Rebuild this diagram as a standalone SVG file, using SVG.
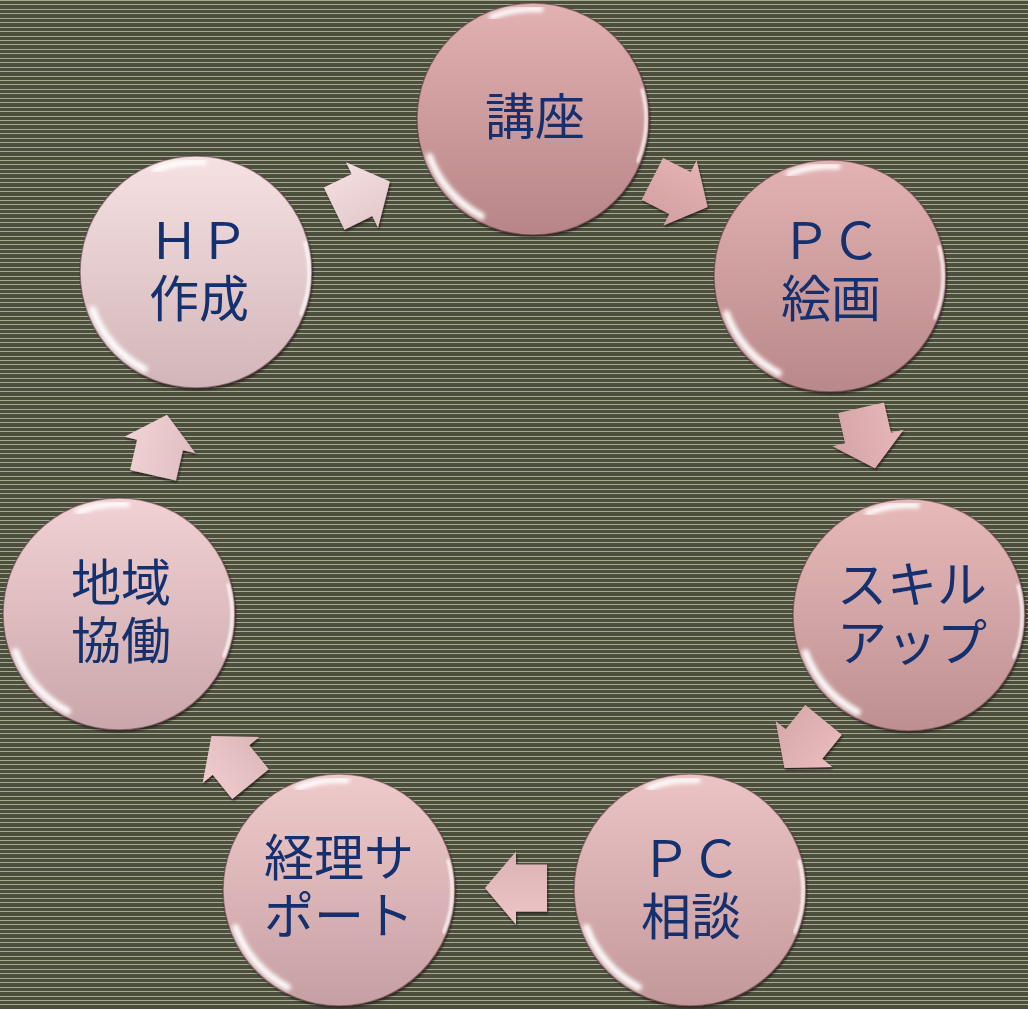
<svg xmlns="http://www.w3.org/2000/svg" xmlns:xlink="http://www.w3.org/1999/xlink" width="1028" height="1009" viewBox="0 0 1028 1009">
  <defs>
    <style>
      .lbl { font-family: "Liberation Serif", "Noto Sans CJK JP", serif; font-size: 50px; fill: #15306e; text-anchor: middle; }
      .hl { fill: none; stroke: #ffffff; stroke-linecap: round; }
      .rim { fill: none; stroke: #5a3b3f; stroke-width: 1.5; stroke-opacity: 0.55; }
    </style>
    <pattern id="stripes" x="0" y="0" width="40" height="40" patternUnits="userSpaceOnUse">
      <rect width="40" height="40" fill="#4c4f3e"/>
      <rect y="0" width="40" height="1" fill="#a7aa91"/>
      <rect y="4" width="40" height="1" fill="#a7aa91"/>
      <rect y="9" width="40" height="1" fill="#a7aa91"/>
      <rect y="13" width="40" height="1" fill="#a7aa91"/>
      <rect y="18" width="40" height="1" fill="#a7aa91"/>
      <rect y="22" width="40" height="1" fill="#a7aa91"/>
      <rect y="27" width="40" height="1" fill="#a7aa91"/>
      <rect y="31" width="40" height="1" fill="#a7aa91"/>
      <rect y="36" width="40" height="1" fill="#a7aa91"/>
    </pattern>
    <filter id="blur2" x="-20%" y="-20%" width="140%" height="140%"><feGaussianBlur stdDeviation="2"/></filter>
    <filter id="blur1" x="-20%" y="-20%" width="140%" height="140%"><feGaussianBlur stdDeviation="1"/></filter>
    <filter id="sh" x="-20%" y="-20%" width="140%" height="140%">
      <feDropShadow dx="1" dy="2" stdDeviation="0.8" flood-color="#1e1416" flood-opacity="0.75"/>
    </filter>
    <linearGradient id="g1" x1="0" y1="0" x2="0" y2="1"><stop offset="0" stop-color="#e2b1b2"/><stop offset="1" stop-color="#b78587"/></linearGradient>
    <linearGradient id="g2" x1="0" y1="0" x2="0" y2="1"><stop offset="0" stop-color="#e3b3b4"/><stop offset="1" stop-color="#b9888a"/></linearGradient>
    <linearGradient id="g3" x1="0" y1="0" x2="0" y2="1"><stop offset="0" stop-color="#e7baba"/><stop offset="1" stop-color="#bd8f91"/></linearGradient>
    <linearGradient id="g4" x1="0" y1="0" x2="0" y2="1"><stop offset="0" stop-color="#ecc4c5"/><stop offset="1" stop-color="#c3989b"/></linearGradient>
    <linearGradient id="g5" x1="0" y1="0" x2="0" y2="1"><stop offset="0" stop-color="#efcacb"/><stop offset="1" stop-color="#c69fa2"/></linearGradient>
    <linearGradient id="g6" x1="0" y1="0" x2="0" y2="1"><stop offset="0" stop-color="#f1d1d3"/><stop offset="1" stop-color="#caa6aa"/></linearGradient>
    <linearGradient id="g7" x1="0" y1="0" x2="0" y2="1"><stop offset="0" stop-color="#f6e1e2"/><stop offset="1" stop-color="#d2b5b9"/></linearGradient>
    <linearGradient id="a1" x1="0" y1="0" x2="0" y2="1"><stop offset="0" stop-color="#e6b3b5"/><stop offset="1" stop-color="#d29fa2"/></linearGradient>
    <linearGradient id="a2" x1="0" y1="0" x2="0" y2="1"><stop offset="0" stop-color="#e8b7b9"/><stop offset="1" stop-color="#d4a3a6"/></linearGradient>
    <linearGradient id="a3" x1="0" y1="0" x2="0" y2="1"><stop offset="0" stop-color="#eabcbe"/><stop offset="1" stop-color="#d6a8ab"/></linearGradient>
    <linearGradient id="a4" x1="0" y1="0" x2="0" y2="1"><stop offset="0" stop-color="#eec6c8"/><stop offset="1" stop-color="#dab1b4"/></linearGradient>
    <linearGradient id="a5" x1="0" y1="0" x2="0" y2="1"><stop offset="0" stop-color="#f0cccf"/><stop offset="1" stop-color="#dcb7ba"/></linearGradient>
    <linearGradient id="a6" x1="0" y1="0" x2="0" y2="1"><stop offset="0" stop-color="#f2d3d5"/><stop offset="1" stop-color="#dfbec1"/></linearGradient>
    <linearGradient id="a7" x1="0" y1="0" x2="0" y2="1"><stop offset="0" stop-color="#f5dfe0"/><stop offset="1" stop-color="#e2c7ca"/></linearGradient>
    <path id="arrow" d="M-31,-23.5 L0,-23.5 L0,-36.5 L31,0 L0,36.5 L0,23.5 L-31,23.5 Z"/>
    <g id="gloss">
      <circle class="rim" r="116"/>
      <path class="hl" d="M-41.2,-102 A110,110 0 0 1 7.7,-109.7" stroke-width="6" filter="url(#blur2)" opacity="0.95"/>
      <path class="hl" d="M-103.4,37.6 A110,110 0 0 0 -51.6,97.1" stroke-width="7" filter="url(#blur2)" opacity="0.95"/>
      <path class="hl" d="M109.1,-29.2 A113,113 0 0 1 104.8,42.3" stroke-width="3" filter="url(#blur1)" opacity="0.85"/>
    </g>
  </defs>

  <rect width="1028" height="1009" fill="url(#stripes)"/>

  <g id="connectors">
    <g filter="url(#sh)"><use href="#arrow" fill="url(#a1)" transform="translate(680,193) rotate(27)"/></g>
    <g filter="url(#sh)"><use href="#arrow" fill="url(#a2)" transform="translate(868,438) rotate(77)"/></g>
    <g filter="url(#sh)"><use href="#arrow" fill="url(#a3)" transform="translate(804,744) rotate(129)"/></g>
    <g filter="url(#sh)"><use href="#arrow" fill="url(#a4)" transform="translate(516,888) rotate(180)"/></g>
    <g filter="url(#sh)"><use href="#arrow" fill="url(#a5)" transform="translate(231,760) rotate(231)"/></g>
    <g filter="url(#sh)"><use href="#arrow" fill="url(#a6)" transform="translate(160,445) rotate(283)"/></g>
    <g filter="url(#sh)"><use href="#arrow" fill="url(#a7)" transform="translate(362,195) rotate(334)"/></g>
  </g>

  <g id="node-kouza" transform="translate(533,119)">
    <circle r="116" fill="url(#g1)" filter="url(#sh)"/>
    <use href="#gloss"/>
    <text class="lbl" x="2" y="16">講座</text>
  </g>

  <g id="node-pc-kaiga" transform="translate(830,276)">
    <circle r="116" fill="url(#g2)" filter="url(#sh)"/>
    <use href="#gloss"/>
    <text class="lbl" x="1" y="-17">ＰＣ</text>
    <text class="lbl" x="1" y="41">絵画</text>
  </g>

  <g id="node-skillup" transform="translate(909,615)">
    <circle r="116" fill="url(#g3)" filter="url(#sh)"/>
    <use href="#gloss"/>
    <text class="lbl" x="3" y="-12">スキル</text>
    <text class="lbl" x="3" y="46">アップ</text>
  </g>

  <g id="node-pc-soudan" transform="translate(690,890)">
    <circle r="116" fill="url(#g4)" filter="url(#sh)"/>
    <use href="#gloss"/>
    <text class="lbl" x="1" y="-13">ＰＣ</text>
    <text class="lbl" x="1" y="45">相談</text>
  </g>

  <g id="node-keiri" transform="translate(339,890)">
    <circle r="116" fill="url(#g5)" filter="url(#sh)"/>
    <use href="#gloss"/>
    <text class="lbl" x="0" y="-14">経理サ</text>
    <text class="lbl" x="0" y="44">ポート</text>
  </g>

  <g id="node-chiiki" transform="translate(119,614)">
    <circle r="116" fill="url(#g6)" filter="url(#sh)"/>
    <use href="#gloss"/>
    <text class="lbl" x="2" y="-13">地域</text>
    <text class="lbl" x="2" y="45">協働</text>
  </g>

  <g id="node-hp" transform="translate(196,272)">
    <circle r="116" fill="url(#g7)" filter="url(#sh)"/>
    <use href="#gloss"/>
    <text class="lbl" x="3" y="-13">ＨＰ</text>
    <text class="lbl" x="3" y="45">作成</text>
  </g>
</svg>
